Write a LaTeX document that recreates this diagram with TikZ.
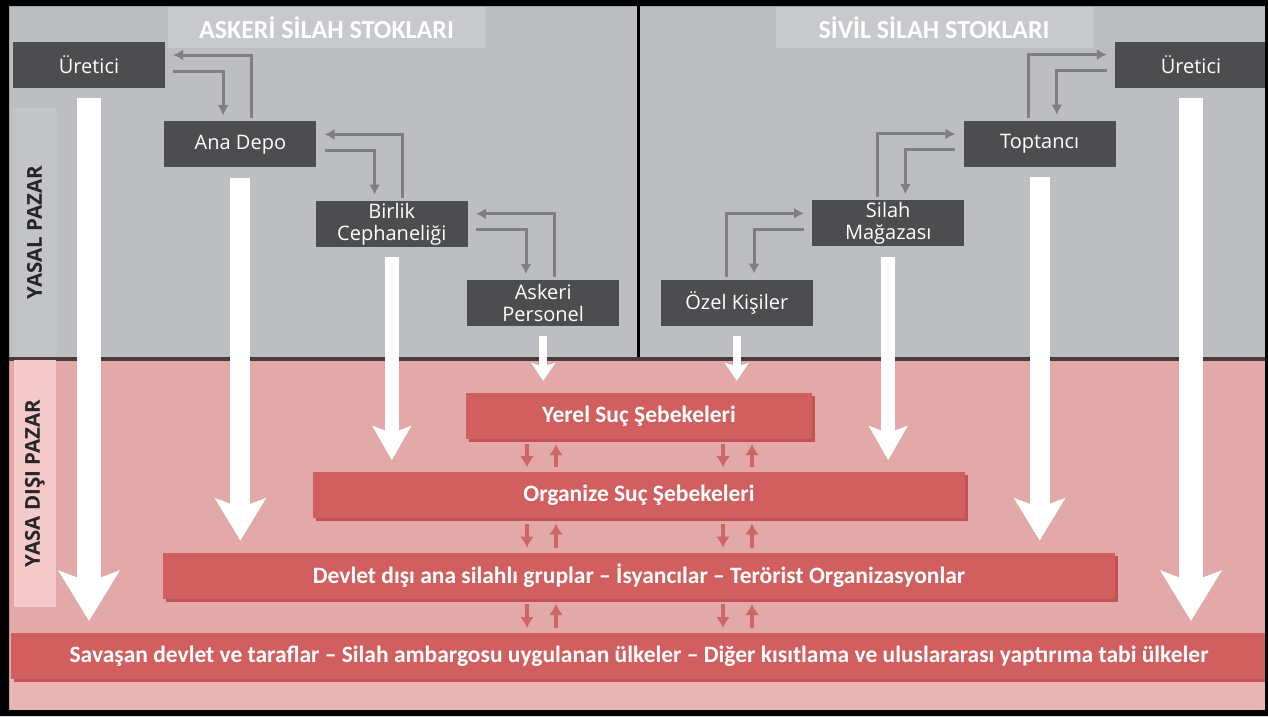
\documentclass[tikz,border=0pt]{standalone}
\usepackage{fontspec}
\setmainfont{Open Sans}
\newfontfamily\barfont{Carlito}
\usetikzlibrary{arrows.meta,positioning,calc,shadows}

\definecolor{bggray}{HTML}{BDBEC2}
\definecolor{bandgray}{HTML}{C3C4C7}
\definecolor{titlegray}{HTML}{C8C9CC}
\definecolor{boxdark}{HTML}{4D4D4F}
\definecolor{linkgray}{HTML}{7F7F80}
\definecolor{pinkbg}{HTML}{E3A9A9}
\definecolor{pinklow}{HTML}{E8B5B4}
\definecolor{pinkband}{HTML}{F4CACA}
\definecolor{barred}{HTML}{D15F5F}
\definecolor{barshade}{HTML}{C25355}
\definecolor{feedred}{HTML}{CD6666}
\definecolor{rulecol}{HTML}{4A3C3E}

\begin{document}
\begin{tikzpicture}[x=1pt,y=-1pt,>=Latex,
    flow/.style n args={4}{draw=white,line width=#1,shorten <=10pt,shorten >=12pt,
      -{Stealth[length=#2,width=#3,inset=#4]}}]
  \tikzstyle{box}=[fill=boxdark,text=white,minimum width=152pt,minimum height=46pt,inner sep=0pt,align=center,font=\fontsize{20}{22}\selectfont]
  \tikzstyle{bar}=[fill=barred,text=white,minimum height=46pt,inner sep=0pt,font=\barfont\bfseries\fontsize{23.5}{26}\selectfont,
    drop shadow={shadow xshift=3pt,shadow yshift=-3pt,fill=barshade,opacity=1}]
  \tikzstyle{title}=[fill=titlegray,text=white,minimum width=317pt,minimum height=41pt,inner sep=0pt,font=\barfont\bfseries\fontsize{26}{28}\selectfont]
  \tikzstyle{side}=[rotate=90,text=black!85,inner sep=0pt,font=\bfseries\fontsize{20.5}{22}\selectfont]
  \tikzstyle{link}=[draw=linkgray,line width=3pt,-{Latex[length=10pt,width=11pt]}]
  \tikzstyle{feed}=[draw=feedred,line width=4pt,-{Latex[length=11pt,width=14pt]}]
  \useasboundingbox (0,0) rectangle (1268,716);

  % background
  \fill[bggray] (9,6) rectangle (1265,357);
  \fill[pinkbg] (9,361) rectangle (1265,710);
  \fill[pinklow] (9,678) rectangle (1265,710);
  \fill[rulecol] (9,357) rectangle (1265,361);
  \fill[black] (636.5,6) rectangle (639.5,357);

  % titles and side labels
  \node[title] (askT) at (326.5,27.5) {ASKERİ SİLAH STOKLARI};
  \node[title] (sivT) at (934,27.5) {SİVİL SİLAH STOKLARI};
  \node[side,fill=bandgray,minimum width=249pt,minimum height=45pt] (yasal) at (34.5,232.5) {YASAL PAZAR};
  \node[side,fill=pinkband,minimum width=247pt,minimum height=42pt] (yasadisi) at (35,483.5) {YASA DIŞI PAZAR};

  % military stocks
  \node[box] (uretA) at (89,65) {Üretici};
  \node[box,below right=33pt and -1pt of uretA] (depo) {Ana Depo};
  \node[box,below right=33pt and -1pt of depo] (birlik) {Birlik\\Cephaneliği};
  \node[box,below right=33pt and -1pt of birlik] (asker) {Askeri\\Personel};

  % civil stocks
  \node[box] (uretB) at (1191,64.5) {Üretici};
  \node[box,below left=33pt and -1pt of uretB] (topt) {Toptancı};
  \node[box,below left=33pt and -1pt of topt] (silah) {Silah\\Mağazası};
  \node[box,below left=33pt and -1pt of silah] (ozel) {Özel Kişiler};

  % illegal market
  \node[bar,minimum width=346pt] (yerel) at (639,416) {Yerel Suç Şebekeleri};
  \node[bar,minimum width=652pt,below=33pt of yerel] (orgsuc) {Organize Suç Şebekeleri};
  \node[bar,minimum width=952pt,below=34pt of orgsuc] (devlet) {Devlet dışı ana silahlı gruplar – İsyancılar – Terörist Organizasyonlar};
  \node[bar,minimum width=1256pt,below=34pt of devlet] (savas) {Savaşan devlet ve taraflar – Silah ambargosu uygulanan ülkeler – Diğer kısıtlama ve uluslararası yaptırıma tabi ülkeler};

  % gray links
  \foreach \hi/\lo in {uretA/depo,depo/birlik,birlik/asker} {
    \draw[link] ([xshift=87pt,yshift=3pt]\lo.north west) |- ([xshift=8pt,yshift=10pt]\hi.east);
    \draw[link] ([xshift=8pt,yshift=-6pt]\hi.east) -| ([xshift=59pt,yshift=6pt]\lo.north west);
  }
  \foreach \hi/\lo in {uretB/topt,topt/silah,silah/ozel} {
    \draw[link] ([xshift=-87pt,yshift=3pt]\lo.north east) |- ([xshift=-8pt,yshift=10pt]\hi.west);
    \draw[link] ([xshift=-8pt,yshift=-6pt]\hi.west) -| ([xshift=-59pt,yshift=6pt]\lo.north east);
  }

  % white flows into the illegal market
  \draw[flow={24pt}{50pt}{60pt}{11pt}] (uretA.south) -- (uretA.south |- savas.north);
  \draw[flow={20pt}{42pt}{50pt}{9pt}] (depo.south) -- (depo.south |- devlet.north);
  \draw[flow={14pt}{34pt}{38pt}{7pt}] (birlik.south) -- (birlik.south |- orgsuc.north);
  \draw[flow={8pt}{18pt}{24pt}{4pt}] (asker.south) -- (asker.south |- yerel.north);
  \draw[flow={24pt}{50pt}{60pt}{11pt}] (uretB.south) -- (uretB.south |- savas.north);
  \draw[flow={20pt}{42pt}{50pt}{9pt}] (topt.south) -- (topt.south |- devlet.north);
  \draw[flow={14pt}{34pt}{38pt}{7pt}] (silah.south) -- (silah.south |- orgsuc.north);
  \draw[flow={8pt}{18pt}{24pt}{4pt}] (ozel.south) -- (ozel.south |- yerel.north);

  % exchange between levels
  \foreach \hi/\lo in {yerel/orgsuc,orgsuc/devlet,devlet/savas} {
    \foreach \dx in {-112,84}
      \draw[feed] ([xshift=\dx pt,yshift=-5pt]\hi.south) -- ([xshift=\dx pt,yshift=5pt]\lo.north);
    \foreach \dx in {-83,113}
      \draw[feed] ([xshift=\dx pt,yshift=5pt]\lo.north) -- ([xshift=\dx pt,yshift=-5pt]\hi.south);
  }

  % frame
  \fill[black,even odd rule] (0,0) rectangle (1268,716) (9,6) rectangle (1265,710);
\end{tikzpicture}
\end{document}
